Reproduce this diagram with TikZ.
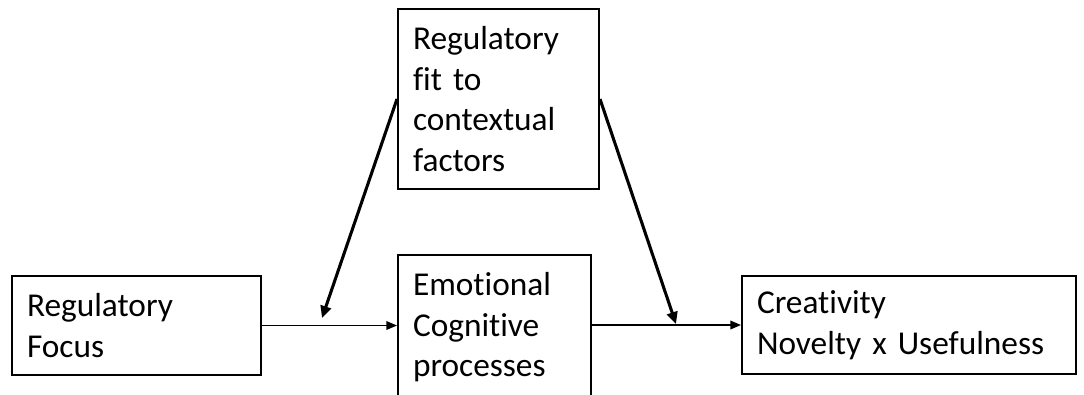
\documentclass[tikz,border=0pt]{standalone}
\usepackage{fontspec}
\setmainfont{Carlito}[Ligatures=NoCommon, RawFeature=-liga]
\usepackage{tikz}
\usetikzlibrary{arrows.meta, positioning}
\tikzstyle{block} = [rectangle, draw=black, line width=1.5pt, align=left, inner xsep=11.25pt, inner ysep=0pt, font=\fontsize{25}{30.4}\selectfont]
\tikzstyle{flow} = [line width=1pt, -{Triangle[length=8pt, width=6.5pt]}]
\tikzstyle{moderate} = [line width=2.3pt, -{Triangle[length=9pt, width=8pt]}]

\begin{document}
\begin{tikzpicture}[x=0.75pt, y=-0.75pt]
\clip (0,0) rectangle (1084,394);

\node (focus) [block, text width=164.25pt, minimum height=74.25pt] at (136.5,325.5) {Regulatory\\Focus};
\node (fit) [block, text width=128.25pt, minimum height=135pt] at (498.5,99) {Regulatory\\fit to\\contextual\\factors};
\node (proc) [block, text width=122.25pt, minimum height=108.75pt] at (494.5,327.5) {Emotional\\Cognitive\\processes};
\node (creat) [block, text width=228pt, minimum height=73.5pt] at (909,325) {Creativity\\Novelty x Usefulness};

\coordinate (m1) at (322,318);
\coordinate (m2) at (676,324);

\draw[flow] (focus.east) -- (focus.east -| proc.west);
\draw[flow] (proc.east |- creat.west) -- (creat.west);
\draw[moderate] (fit.west) -- (m1);
\draw[moderate] (fit.east) -- (m2);

\end{tikzpicture}
\end{document}
